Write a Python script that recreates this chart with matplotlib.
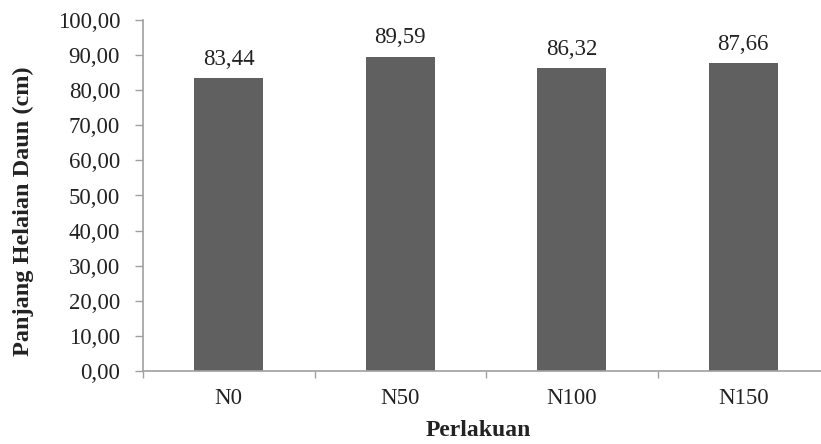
import matplotlib
matplotlib.use("Agg")
import matplotlib.pyplot as plt
from matplotlib.ticker import FixedLocator, MultipleLocator, FuncFormatter

# data
categories = ["N0", "N50", "N100", "N150"]
values = [83.44, 89.59, 86.32, 87.66]

plt.rcParams['font.family'] = ['Liberation Serif', 'DejaVu Serif']
FS = 16.5

fig = plt.figure(figsize=(8.21, 4.44), dpi=100)
ax = fig.add_axes([143/821, 73/444, 1 - 143/821, 351/444])

x = range(len(categories))
bars = ax.bar(x, values, width=0.4, color="#606060", zorder=2)

for b, v in zip(bars, values):
    ax.annotate(f"{v:.2f}".replace(".", ","), (b.get_x() + b.get_width()/2, v),
                xytext=(0, 6), textcoords="offset points",
                ha="center", va="bottom", fontsize=FS, color="#222222")

ax.set_ylim(0, 100)
ax.set_xlim(-0.5, -0.5 + 678/171.5)
ax.yaxis.set_major_locator(MultipleLocator(10))
ax.yaxis.set_major_formatter(FuncFormatter(lambda v, p: f"{v:.2f}".replace(".", ",")))

# category labels in the middle, ticks at the boundaries
ax.set_xticks(list(x))
ax.set_xticklabels(categories)
ax.xaxis.set_minor_locator(FixedLocator([-0.5, 0.5, 1.5, 2.5, 3.5]))
ax.tick_params(axis="x", which="major", length=0, pad=12, labelsize=FS, colors="#222222")
ax.tick_params(axis="x", which="minor", length=5, width=1, color="#a0a0a0")
ax.tick_params(axis="y", length=6, width=1, color="#a0a0a0", pad=10.5, labelsize=FS, labelcolor="#222222")

for s in ["top", "right"]:
    ax.spines[s].set_visible(False)
for s in ["left", "bottom"]:
    ax.spines[s].set_color("#a0a0a0")
    ax.spines[s].set_linewidth(1.2)

fig.text(23/821, 1 - 211/444, "Panjang Helaian Daun (cm)", rotation=90,
         ha="center", va="center", fontsize=17.5, fontweight="bold", color="#222222")
fig.text(478/821, 1 - 430/444, "Perlakuan", ha="center", va="center", fontsize=17,
         fontweight="bold", color="#222222")

fig.savefig("out.png", dpi=100)
